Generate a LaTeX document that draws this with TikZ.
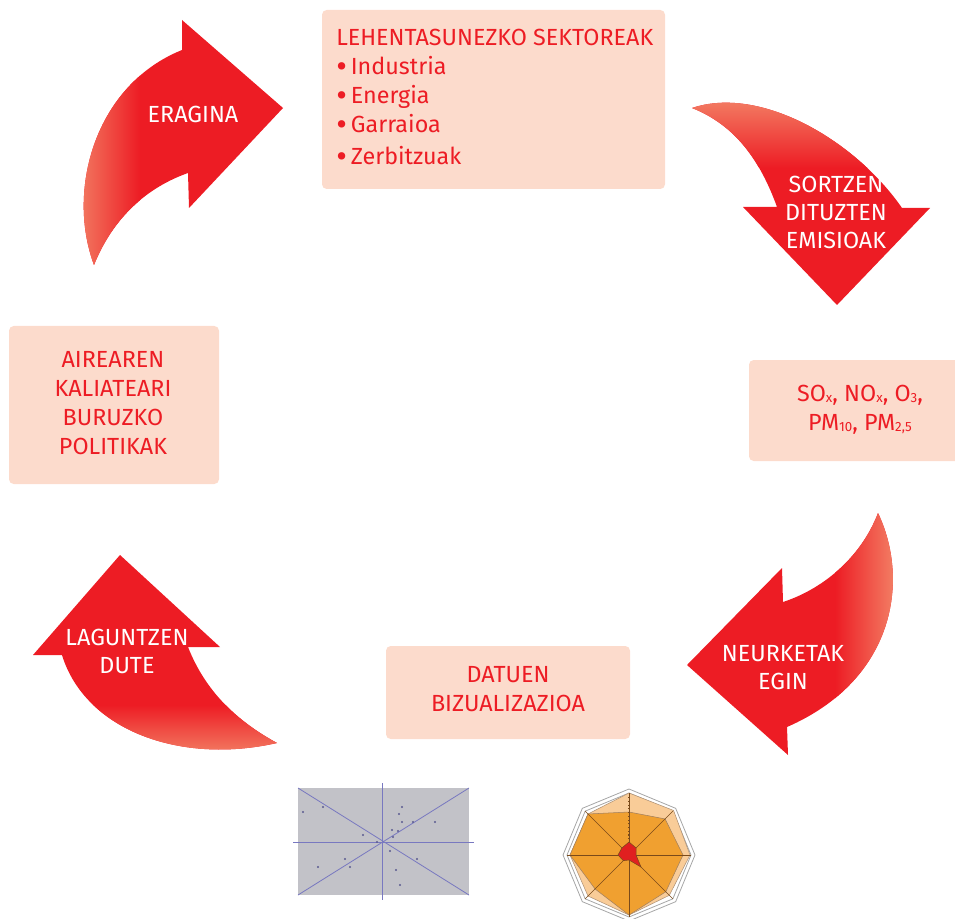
\documentclass[tikz,border=0pt]{standalone}
\usepackage{fontspec}
\setmainfont{Fira Sans}
\definecolor{myred}{HTML}{ED1C24}
\definecolor{salmon}{HTML}{F3876A}
\definecolor{peachbox}{HTML}{FCDBCC}
\definecolor{plotgray}{HTML}{C2C2C8}
\definecolor{plotline}{HTML}{7878C0}
\definecolor{plotdot}{HTML}{5A5A90}
\definecolor{radorange}{HTML}{F0A030}
\definecolor{radpeach}{HTML}{F9CC98}
\definecolor{radline}{HTML}{7A4A1A}
\definecolor{radred}{HTML}{E02020}
\newcommand{\mysub}[1]{\raisebox{-0.6pt}{\fontsize{10}{10}\selectfont #1}}
\newcommand{\mybul}{\raisebox{-2.3pt}[0pt][0pt]{\scalebox{1.4}{•}}\hspace{3pt}}
\def\arrowA{(94,265) .. controls (66,190) and (95,85) .. (182,50) -- (182,20) -- (283,108) -- (189,208) -- (188,173) .. controls (140,190) and (110,225) .. (94,265) -- cycle}
\def\arrowB{(692,108) .. controls (760,85) and (855,140) .. (902,208) -- (930,208) -- (837,305) -- (743,207) -- (777,207) .. controls (760,160) and (735,125) .. (692,108) -- cycle}
\def\arrowC{(878,513) .. controls (910,580) and (895,680) .. (787,727) -- (788,755) -- (687,665) -- (782,568) -- (783,602) .. controls (820,590) and (860,560) .. (878,513) -- cycle}
\def\arrowD{(120,555) -- (220,647) -- (188,647) .. controls (205,690) and (235,720) .. (277,743) .. controls (180,765) and (85,730) .. (62,655) -- (33,655) -- cycle}
\begin{document}
\begin{tikzpicture}[x=0.75pt,y=-0.75pt,
  box/.style={fill=peachbox, rounded corners=3.5pt, inner sep=0pt},
  boxtext/.style={text=myred, font=\fontsize{17.5}{21.75}\selectfont, align=center, inner sep=0pt},
  arrtext/.style={text=white, font=\fontsize{17.5}{21}\selectfont, align=center, inner sep=0pt}]
\useasboundingbox (0,0) rectangle (955,919);
\begin{scope}
\clip (0,0) rectangle (955,919);
% boxes
\node[box, minimum width=343*0.75pt, minimum height=179*0.75pt] (sectors) at (493.5,99.5) {};
\node[box, minimum width=220*0.75pt, minimum height=101*0.75pt] (emis) at (859,410.5) {};
\node[box, minimum width=210*0.75pt, minimum height=158*0.75pt] (policy) at (114,405) {};
\node[box, minimum width=244*0.75pt, minimum height=93*0.75pt] (visual) at (508,692.5) {};
\end{scope}
% box texts
\node[boxtext, align=left, anchor=north west] (sectorstext) at (336,29)
  {LEHENTASUNEZKO SEKTOREAK\\
   \mybul Industria\\
   \mybul Energia\\
   \mybul Garraioa\\[2pt]
   \mybul Zerbitzuak};
\node[boxtext] (emistext) at (860,410)
  {SO\mysub{x}, NO\mysub{x}, O\mysub{3},\\ PM\mysub{10}, PM\mysub{2,5}};
\node[boxtext] (policytext) at (113,403)
  {AIREAREN\\ KALIATEARI\\ BURUZKO\\ POLITIKAK};
\node[boxtext] (visualtext) at (508,689)
  {DATUEN\\ BIZUALIZAZIOA};
% arrows
\fill[myred] \arrowA;
\begin{scope}
\clip \arrowA;
\shade[left color=salmon, right color=myred] (70,0) rectangle (140,300);
\end{scope}
\fill[myred] \arrowB;
\begin{scope}
\clip \arrowB;
\shade[top color=salmon, bottom color=myred] (680,92) rectangle (940,168);
\end{scope}
\fill[myred] \arrowC;
\begin{scope}
\clip \arrowC;
\shade[left color=myred, right color=salmon] (835,500) rectangle (900,760);
\end{scope}
\fill[myred] \arrowD;
\begin{scope}
\clip \arrowD;
\shade[top color=myred, bottom color=salmon] (25,705) rectangle (290,760);
\end{scope}
\node[arrtext] (eragina) at (193,114.5) {ERAGINA};
\node[arrtext] (sortzen) at (836,212) {SORTZEN\\ DITUZTEN\\ EMISIOAK};
\node[arrtext] (neurketak) at (783,668) {NEURKETAK\\ EGIN};
\node[arrtext] (laguntzen) at (127,651) {LAGUNTZEN\\ DUTE};
% scatter chart
\fill[plotgray] (298,788) rectangle (469,895);
\draw[plotline, line width=0.6pt] (298,788) -- (469,895);
\draw[plotline, line width=0.6pt] (298,895) -- (469,788);
\draw[plotline, line width=0.7pt] (293,842) -- (474,842);
\draw[plotline, line width=0.7pt] (382,783) -- (382,900);
\foreach \p in {(303,812),(323,807),(363,835),(402,807),(399,814),(402,822),(392,830),(398,831),(413,822),(435,822),(393,837),(345,859),(350,867),(318,867),(390,851),(396,870),(417,859),(400,885),(377,842)}
  \fill[plotdot] \p circle (1.2);
% radar chart
\begin{scope}[shift={(629,855)}, yscale=-1]
\draw[gray!70, line width=0.6pt] (0:66) \foreach \a in {45,90,...,315} {-- (\a:66)} -- cycle;
\draw[gray!70, line width=0.6pt] (0:62) \foreach \a in {45,90,...,315} {-- (\a:62)} -- cycle;
\fill[radpeach, draw=radline!60, line width=0.4pt] (0:61) -- (45:63) -- (90:62) -- (135:58) -- (180:59) -- (225:58) -- (270:60) -- (315:57) -- cycle;
\fill[radorange, draw=radline!70, line width=0.4pt] (0:54) -- (45:51) -- (90:43) -- (135:58) -- (180:59) -- (225:48) -- (270:60) -- (315:52) -- cycle;
\foreach \a in {0,45,90,135} \draw[radline, line width=0.5pt] (\a:62) -- (\a+180:62);
\draw[radline, dotted, line width=0.8pt] (90:12) -- (90:58);
\fill[radred, draw=radline, line width=0.4pt] (0:7) -- (45:10) -- (90:13) -- (135:10) -- (180:11) -- (225:8) -- (270:5) -- (315:17) -- cycle;
\end{scope}
\end{tikzpicture}
\end{document}
